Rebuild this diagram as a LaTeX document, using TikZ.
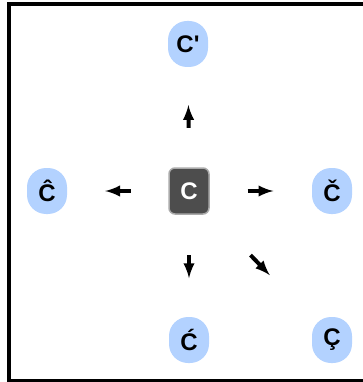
\documentclass[tikz,border=0pt]{standalone}
\usepackage{fontspec}
\setmainfont{Liberation Sans}
\newfontfamily\labelfont{Liberation Sans}
\usetikzlibrary{calc}
\definecolor{pillblue}{RGB}{179,210,255}
\definecolor{coregray}{RGB}{77,77,77}
\definecolor{coreedge}{RGB}{170,170,170}

\begin{document}
\begin{tikzpicture}[x=1pt, y=-1pt, >=latex,
    pill/.style={fill=pillblue, rounded corners=19pt, minimum width=40pt, minimum height=46pt,
        inner sep=0pt, font=\labelfont\bfseries\fontsize{24}{28}\selectfont},
    core/.style={fill=coregray, draw=coreedge, line width=1.5pt, rounded corners=6pt,
        minimum width=40pt, minimum height=46pt, inner sep=0pt, text=white,
        font=\labelfont\bfseries\fontsize{24}{28}\selectfont},
    hint/.style={->, line width=4pt}]
        \useasboundingbox (0,0) rectangle (363,382);
        % ==== FRAME ====
        \draw[line width=4pt] (9,4) rectangle (368,380.5);
        % ==== NODES ====
        \node[core] (c) at (189,191) {C};
        \node[pill] (prime) at (188,44) {C'};
        \node[pill] (circ) at (47,191) {Ĉ};
        \node[pill] (caron) at (332,191) {Č};
        \node[pill] (acute) at (189,340) {Ć};
        \node[pill] (cedil) at (332,340) {Ç};
        % ==== ARROWS ====
        \draw[hint] ($(c)!0.43!(prime)$) -- ($(c)!0.585!(prime)$);
        \draw[hint] ($(c)!0.41!(circ)$) -- ($(c)!0.59!(circ)$);
        \draw[hint] ($(c)!0.41!(caron)$) -- ($(c)!0.59!(caron)$);
        \draw[hint] ($(c)!0.43!(acute)$) -- ($(c)!0.585!(acute)$);
        \draw[hint] ($(c)!0.43!(cedil)$) -- ($(c)!0.565!(cedil)$);
\end{tikzpicture}
\end{document}
